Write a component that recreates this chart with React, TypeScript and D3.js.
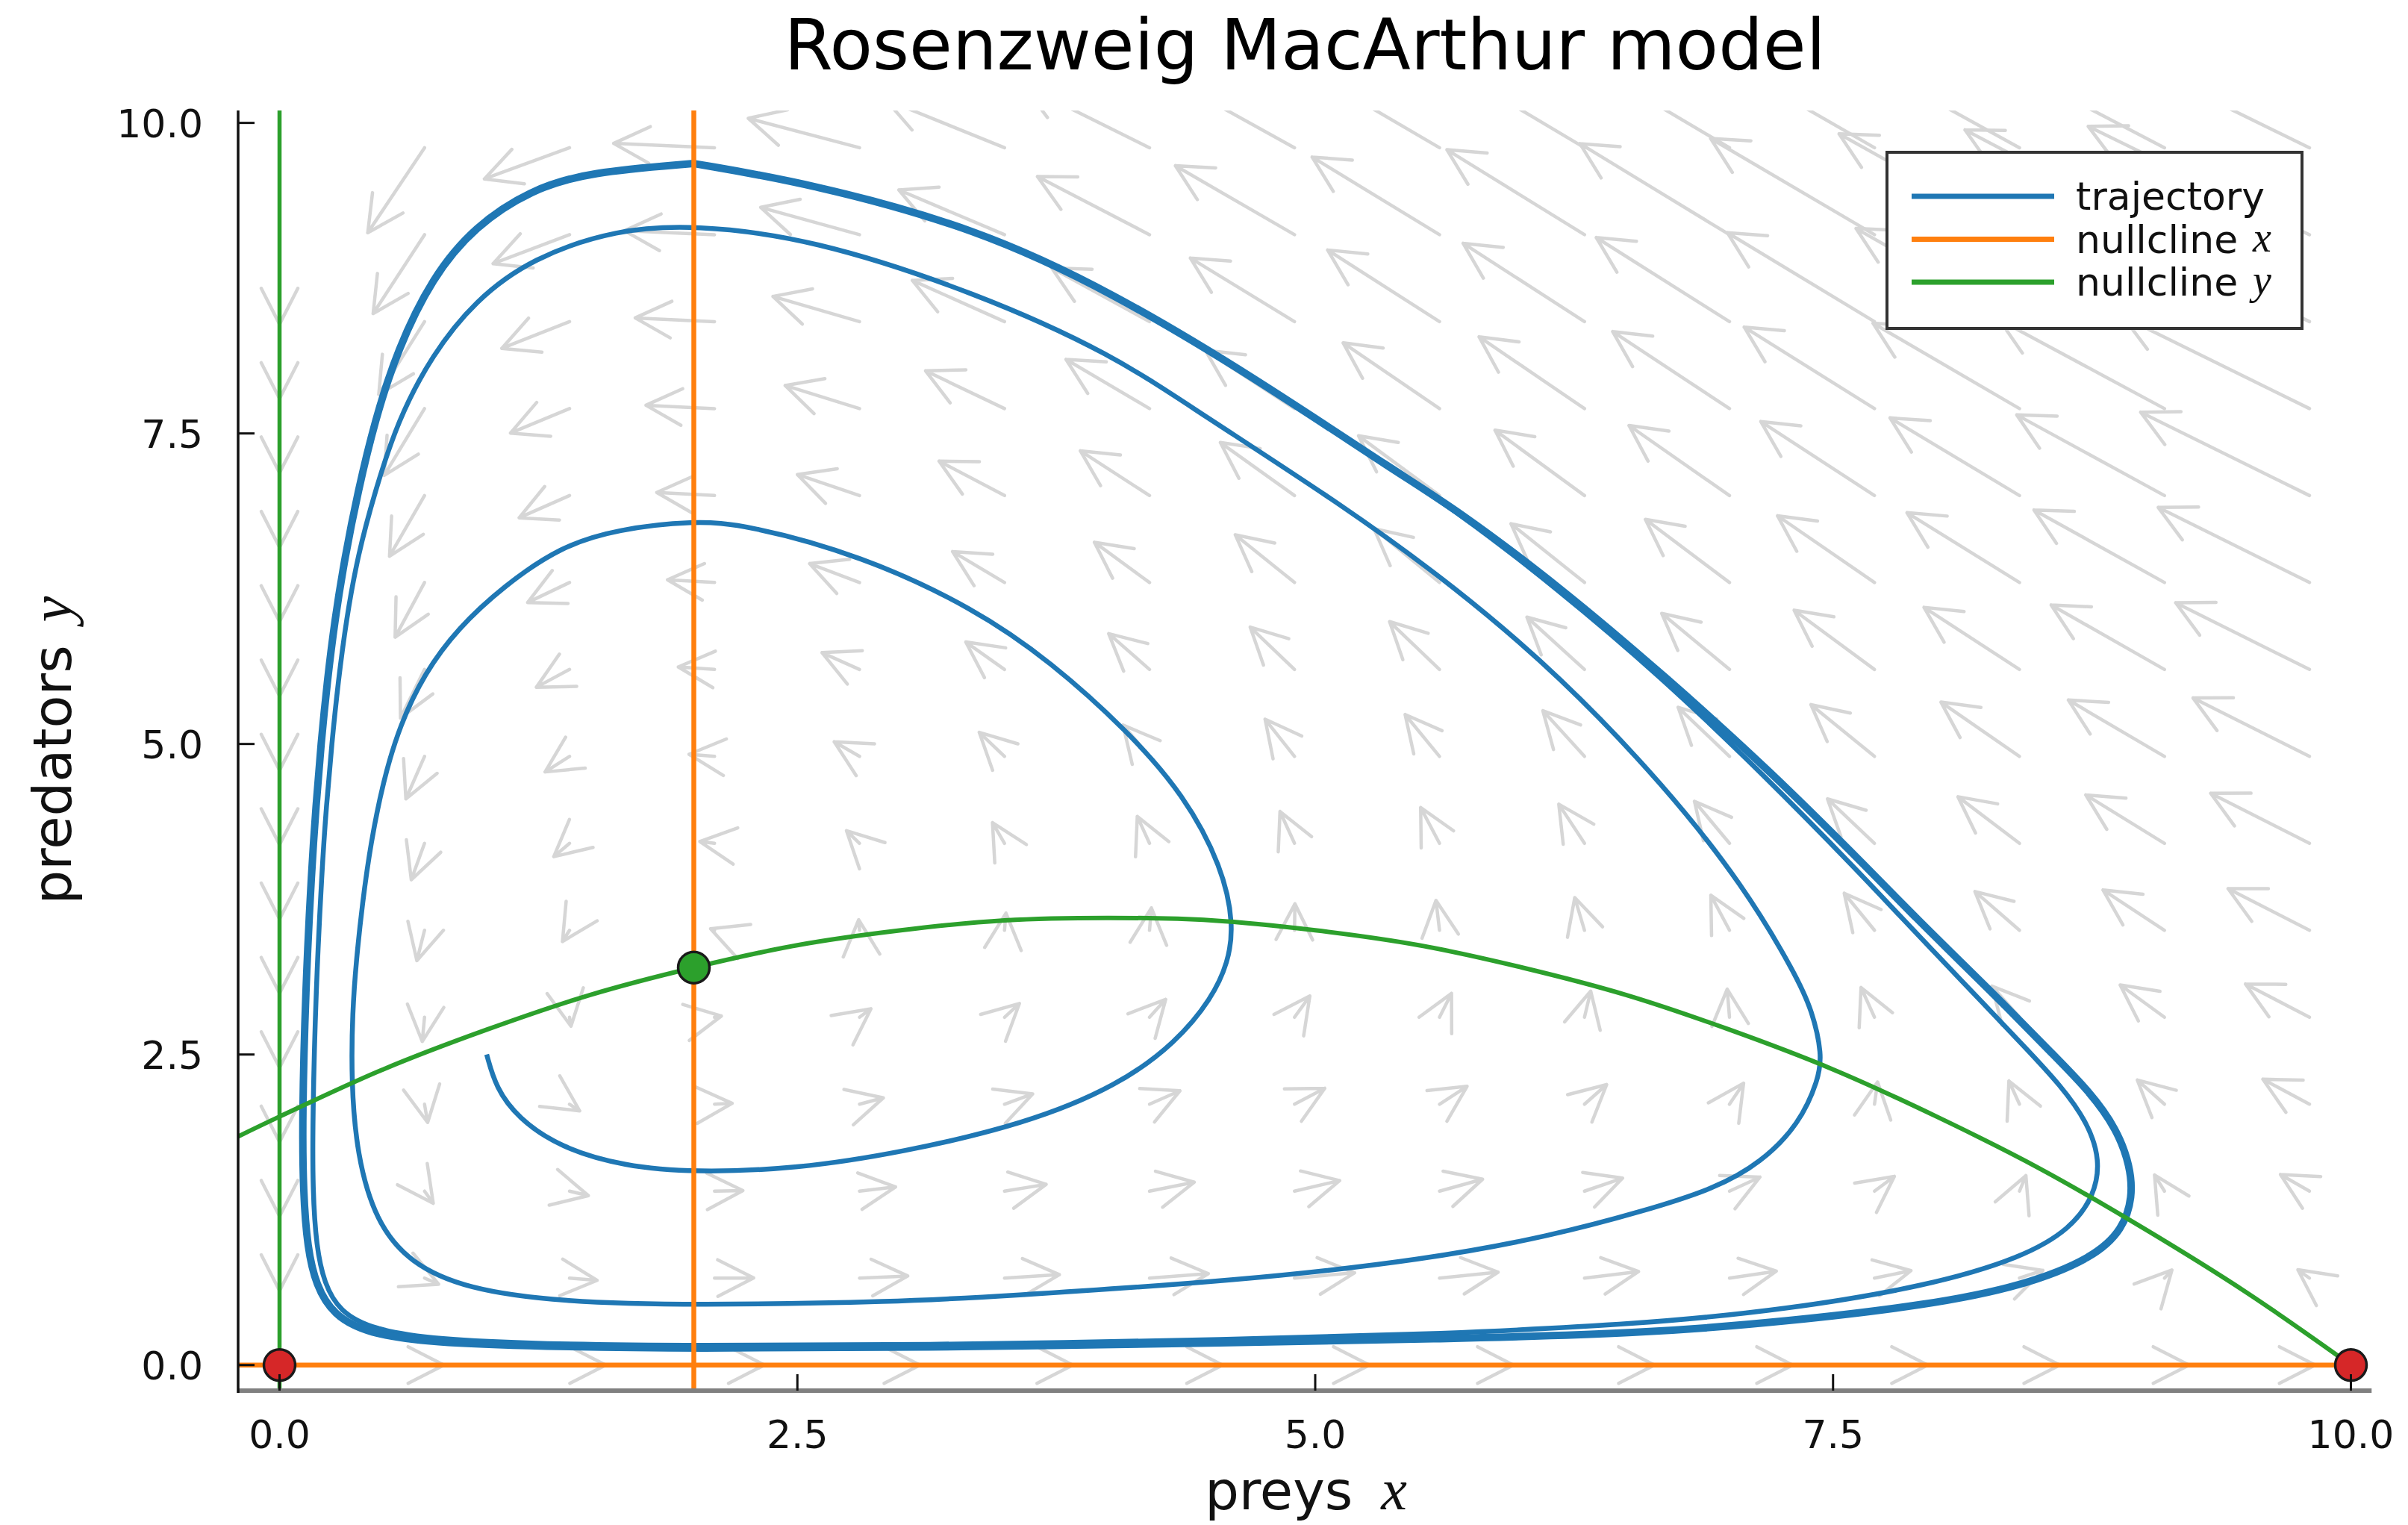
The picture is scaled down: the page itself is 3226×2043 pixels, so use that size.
import { useEffect } from "react";
import * as d3 from "d3";

const W = 3226;
const H = 2043;

// quiver grid (tails) and arrow components, rows = gridY, columns = gridX
const gridX = [0, 0.7, 1.4, 2.1, 2.8, 3.5, 4.2, 4.9, 5.6, 6.3, 7.0, 7.7, 8.4, 9.1, 9.8];
const gridY = [0, 0.7, 1.4, 2.1, 2.8, 3.5, 4.2, 4.9, 5.6, 6.3, 7.0, 7.7, 8.4, 9.1, 9.8];

const arrowU = [
  [0, 0.094, 0.175, 0.241, 0.292, 0.33, 0.353, 0.362, 0.357, 0.338, 0.305, 0.257, 0.195, 0.119, 0.028],
  [0, 0.068, 0.133, 0.189, 0.233, 0.265, 0.284, 0.29, 0.283, 0.261, 0.226, 0.176, 0.113, 0.036, -0.056],
  [0, 0.042, 0.091, 0.137, 0.174, 0.201, 0.216, 0.218, 0.208, 0.184, 0.147, 0.096, 0.031, -0.048, -0.14],
  [0, 0.015, 0.049, 0.085, 0.115, 0.136, 0.147, 0.146, 0.133, 0.107, 0.068, 0.015, -0.051, -0.131, -0.225],
  [0, -0.011, 0.007, 0.033, 0.055, 0.072, 0.078, 0.074, 0.058, 0.03, -0.011, -0.065, -0.133, -0.214, -0.309],
  [0, -0.037, -0.034, -0.019, -0.004, 0.007, 0.009, 0.002, -0.017, -0.047, -0.09, -0.146, -0.215, -0.297, -0.393],
  [0, -0.064, -0.076, -0.071, -0.063, -0.058, -0.059, -0.07, -0.091, -0.124, -0.169, -0.227, -0.297, -0.38, -0.477],
  [0, -0.09, -0.118, -0.123, -0.122, -0.122, -0.128, -0.142, -0.166, -0.201, -0.248, -0.307, -0.379, -0.464, -0.562],
  [0, -0.116, -0.16, -0.175, -0.181, -0.187, -0.197, -0.214, -0.241, -0.278, -0.327, -0.388, -0.461, -0.547, -0.646],
  [0, -0.142, -0.202, -0.227, -0.241, -0.251, -0.266, -0.286, -0.316, -0.355, -0.406, -0.468, -0.543, -0.63, -0.73],
  [0, -0.169, -0.243, -0.279, -0.3, -0.316, -0.334, -0.358, -0.391, -0.432, -0.485, -0.549, -0.625, -0.713, -0.815],
  [0, -0.195, -0.285, -0.331, -0.359, -0.381, -0.403, -0.43, -0.465, -0.509, -0.564, -0.629, -0.707, -0.797, -0.899],
  [0, -0.221, -0.327, -0.383, -0.418, -0.445, -0.472, -0.503, -0.54, -0.586, -0.643, -0.71, -0.789, -0.88, -0.983],
  [0, -0.248, -0.369, -0.435, -0.477, -0.51, -0.541, -0.575, -0.615, -0.664, -0.722, -0.791, -0.871, -0.963, -1.068],
  [0, -0.274, -0.411, -0.487, -0.537, -0.574, -0.609, -0.647, -0.69, -0.741, -0.801, -0.871, -0.953, -1.046, -1.152],
];

const arrowV = [
  [0, 0, 0, 0, 0, 0, 0, 0, 0, 0, 0, 0, 0, 0, 0],
  [-0.102, -0.049, -0.018, 0.002, 0.017, 0.028, 0.036, 0.043, 0.048, 0.053, 0.056, 0.06, 0.062, 0.065, 0.067],
  [-0.203, -0.098, -0.036, 0.005, 0.034, 0.055, 0.072, 0.085, 0.096, 0.105, 0.113, 0.119, 0.125, 0.13, 0.134],
  [-0.305, -0.147, -0.054, 0.007, 0.051, 0.083, 0.108, 0.128, 0.144, 0.158, 0.169, 0.179, 0.187, 0.195, 0.201],
  [-0.406, -0.195, -0.072, 0.01, 0.068, 0.111, 0.144, 0.171, 0.192, 0.21, 0.226, 0.239, 0.25, 0.26, 0.268],
  [-0.508, -0.244, -0.09, 0.012, 0.085, 0.138, 0.18, 0.213, 0.24, 0.263, 0.282, 0.298, 0.312, 0.325, 0.335],
  [-0.609, -0.293, -0.107, 0.015, 0.102, 0.166, 0.216, 0.256, 0.288, 0.315, 0.338, 0.358, 0.375, 0.39, 0.403],
  [-0.711, -0.342, -0.125, 0.017, 0.118, 0.194, 0.252, 0.299, 0.337, 0.368, 0.395, 0.417, 0.437, 0.454, 0.47],
  [-0.812, -0.391, -0.143, 0.02, 0.135, 0.221, 0.288, 0.341, 0.385, 0.421, 0.451, 0.477, 0.5, 0.519, 0.537],
  [-0.914, -0.44, -0.161, 0.022, 0.152, 0.249, 0.324, 0.384, 0.433, 0.473, 0.508, 0.537, 0.562, 0.584, 0.604],
  [-1.015, -0.489, -0.179, 0.025, 0.169, 0.277, 0.36, 0.427, 0.481, 0.526, 0.564, 0.596, 0.625, 0.649, 0.671],
  [-1.117, -0.538, -0.197, 0.027, 0.186, 0.304, 0.396, 0.469, 0.529, 0.578, 0.62, 0.656, 0.687, 0.714, 0.738],
  [-1.218, -0.586, -0.215, 0.03, 0.203, 0.332, 0.432, 0.512, 0.577, 0.631, 0.677, 0.716, 0.75, 0.779, 0.805],
  [-1.32, -0.635, -0.233, 0.032, 0.22, 0.36, 0.468, 0.555, 0.625, 0.684, 0.733, 0.775, 0.812, 0.844, 0.872],
  [-1.421, -0.684, -0.251, 0.035, 0.237, 0.388, 0.504, 0.597, 0.673, 0.736, 0.789, 0.835, 0.874, 0.909, 0.939],
];

// trajectory, from the start point (1, 2.5) outwards
const trajectory: [number, number][] = [
  // first loop
  [1.0, 2.5], [1.045, 2.23], [1.15, 1.99], [1.355, 1.75], [1.665, 1.6], [2.0, 1.55], [2.5, 1.58],
  [3.0, 1.71], [3.6, 1.94], [4.05, 2.25], [4.33, 2.6], [4.5, 2.95], [4.58, 3.24], [4.607, 3.545],
  [4.552, 4.006], [4.368, 4.588], [4.092, 5.109], [3.725, 5.66], [3.357, 6.09], [2.806, 6.52],
  [2.254, 6.765], [2.0, 6.798], [1.632, 6.729], [1.357, 6.591], [1.081, 6.27], [0.86, 5.93],
  [0.7, 5.57], [0.58, 5.15], [0.5, 4.7], [0.44, 4.2], [0.4, 3.72], [0.37, 3.25], [0.352, 2.85],
  [0.346, 2.29], [0.373, 1.69], [0.466, 1.15], [0.63, 0.82], [0.9, 0.613], [1.355, 0.508],
  [2.0, 0.48], [3.0, 0.51], [3.45, 0.55], [4.644, 0.68], [5.54, 0.85], [6.14, 1.04], [6.586, 1.24],
  [6.93, 1.42], [7.153, 1.63], [7.337, 1.94], [7.43, 2.3], [7.447, 2.5], [7.4, 2.85], [7.321, 3.142],
  [7.068, 3.859], [6.689, 4.66], [6.183, 5.545], [5.677, 6.262], [5.137, 6.918], [4.424, 7.685],
  [4.025, 8.133], [3.37, 8.63], [2.562, 9.073], [2.0, 9.178],
  // second loop
  [1.632, 9.145], [1.219, 8.914], [0.943, 8.569], [0.736, 8.132], [0.57, 7.603], [0.46, 7.028],
  [0.378, 6.522], [0.322, 6.0], [0.283, 5.5], [0.252, 5.0], [0.226, 4.5], [0.205, 4.0], [0.175, 3.0],
  [0.16, 2.0], [0.16, 1.4], [0.178, 0.95], [0.215, 0.66], [0.29, 0.43], [0.45, 0.285], [0.76, 0.205],
  [1.25, 0.17], [2.0, 0.155], [3.05, 0.16], [4.644, 0.205], [5.6, 0.25], [6.578, 0.33], [7.268, 0.445],
  [7.958, 0.636], [8.417, 0.867], [8.647, 1.097], [8.762, 1.365], [8.79, 1.65], [8.73, 1.95],
  [8.6, 2.25], [8.42, 2.57], [8.22, 2.92], [8.02, 3.27], [7.82, 3.62], [7.63, 3.96], [7.16, 4.76],
  [6.67, 5.54], [6.17, 6.25], [5.67, 6.89], [5.4, 7.175], [4.714, 7.942], [4.025, 8.632], [3.37, 9.15],
  [2.562, 9.513], [2.0, 9.673],
];

// the limit cycle the trajectory settles on (traversed several times -> thick band)
const limitCycle: [number, number][] = [
  [2.0, 9.673], [1.494, 9.604], [1.219, 9.466], [0.942, 9.169], [0.736, 8.753], [0.57, 8.178],
  [0.46, 7.603], [0.378, 7.028], [0.315, 6.5], [0.267, 6.0], [0.23, 5.5], [0.2, 5.0], [0.176, 4.5],
  [0.155, 4.0], [0.125, 3.0], [0.11, 2.0], [0.114, 1.39], [0.135, 0.94], [0.176, 0.642], [0.259, 0.404],
  [0.424, 0.254], [0.734, 0.18], [1.252, 0.15], [2.0, 0.133], [3.05, 0.14], [4.644, 0.18], [5.6, 0.21],
  [6.578, 0.254], [7.268, 0.349], [7.958, 0.483], [8.417, 0.636], [8.762, 0.867], [8.9, 1.097],
  [8.946, 1.35], [8.935, 1.6], [8.87, 1.9], [8.74, 2.2], [8.55, 2.52], [8.34, 2.88], [8.12, 3.24],
  [7.9, 3.6], [7.7, 3.944], [7.194, 4.787], [6.689, 5.545], [6.183, 6.262], [5.677, 6.894],
  [5.404, 7.175], [4.714, 7.942], [4.025, 8.632], [3.37, 9.15], [2.562, 9.513], [2.0, 9.673],
];

// curved prey nullcline (green)
const nullYX = [-0.2, 0, 0.5, 1, 1.5, 2, 2.5, 3, 3.5, 4, 4.5, 5, 5.5, 6, 6.5, 7, 7.5, 8, 8.5, 9, 9.5, 10];
const nullYY = [1.84, 2.0, 2.38, 2.7, 2.98, 3.2, 3.38, 3.5, 3.58, 3.6, 3.58, 3.5, 3.38, 3.2, 2.98, 2.7, 2.38, 2.0, 1.58, 1.1, 0.58, 0];

const nullXVertical = 2;
const nullXHorizontal = 0;
const nullYVertical = 0;

const redPoints: [number, number][] = [[0, 0], [10, 0]];
const greenPoints: [number, number][] = [[2, 3.2]];

const xTicks = [0, 2.5, 5, 7.5, 10];
const yTicks = [0, 2.5, 5, 7.5, 10];

const BLUE = "#1f77b4";
const ORANGE = "#ff7f0e";
const GREEN = "#2ca02c";
const RED = "#d62728";
const ARROW = "#d6d6d6";

const SANS = "DejaVu Sans, sans-serif";
const MATH = "Liberation Serif, DejaVu Serif, serif";

const x = d3.scaleLinear().domain([-0.2, 10.1]).range([319, 3177.25]);
const y = d3.scaleLinear().domain([-0.206, 10.1]).range([1863, 148]);

const HEAD_LEN = 54;
const HEAD_ANG = (27 * Math.PI) / 180;

function arrowPath(gx: number, gy: number, u: number, v: number) {
  const x1 = x(gx), y1 = y(gy), x2 = x(gx + u), y2 = y(gy + v);
  const a = Math.atan2(y2 - y1, x2 - x1);
  const bx1 = x2 - HEAD_LEN * Math.cos(a - HEAD_ANG);
  const by1 = y2 - HEAD_LEN * Math.sin(a - HEAD_ANG);
  const bx2 = x2 - HEAD_LEN * Math.cos(a + HEAD_ANG);
  const by2 = y2 - HEAD_LEN * Math.sin(a + HEAD_ANG);
  return `M${x1},${y1}L${x2},${y2}M${bx1},${by1}L${x2},${y2}L${bx2},${by2}`;
}

export default function App() {
  useEffect(() => {
    document.body.style.margin = "0";
    document.body.style.overflow = "hidden";
  }, []);

  const smooth = d3
    .line<[number, number]>()
    .x((d) => x(d[0]))
    .y((d) => y(d[1]))
    .curve(d3.curveBasis);

  const nullLine = d3
    .line<[number, number]>()
    .x((d) => x(d[0]))
    .y((d) => y(d[1]))
    .curve(d3.curveCatmullRom);

  const nullPts = nullYX.map((v, i) => [v, nullYY[i]] as [number, number]);

  const [x0, x1] = x.range();
  const [yb, yt] = y.range();
  const xc = (x0 + x1) / 2;
  const yc = (yt + yb) / 2;

  const legendItems = [
    { label: "trajectory", math: "", color: BLUE },
    { label: "nullcline", math: "x", color: ORANGE },
    { label: "nullcline", math: "y", color: GREEN },
  ];

  return (
    <svg
      width={W}
      height={H}
      viewBox={`0 0 ${W} ${H}`}
      style={{ position: "absolute", left: 0, top: 0, background: "#fff" }}
      fontFamily={SANS}
    >
      <defs>
        <clipPath id="plotArea">
          <rect x={x0} y={yt} width={x1 - x0} height={yb - yt} />
        </clipPath>
      </defs>
      <rect width={W} height={H} fill="#fff" />

      <g clipPath="url(#plotArea)">
        {/* vector field */}
        <g stroke={ARROW} strokeWidth={4.5} fill="none" strokeLinecap="round" strokeLinejoin="round">
          {gridY.map((gy, j) =>
            gridX.map((gx, i) => {
              const u = arrowU[j][i];
              const v = arrowV[j][i];
              if (u === 0 && v === 0) return null;
              return <path key={`${i}-${j}`} d={arrowPath(gx, gy, u, v)} />;
            })
          )}
        </g>

        {/* trajectory */}
        <path d={smooth(trajectory) ?? ""} fill="none" stroke={BLUE} strokeWidth={6.5} />
        <path d={smooth(limitCycle) ?? ""} fill="none" stroke={BLUE} strokeWidth={10} />

        {/* nullclines x */}
        <line x1={x(nullXVertical)} x2={x(nullXVertical)} y1={yt} y2={yb} stroke={ORANGE} strokeWidth={6.5} />
        <line x1={x0} x2={x(10)} y1={y(nullYVertical)} y2={y(nullYVertical)} stroke={ORANGE} strokeWidth={6.5} />

        {/* nullclines y */}
        <line x1={x(nullXHorizontal)} x2={x(nullXHorizontal)} y1={yt} y2={yb} stroke={GREEN} strokeWidth={5.5} />
        <path d={nullLine(nullPts) ?? ""} fill="none" stroke={GREEN} strokeWidth={6} />
      </g>

      {/* equilibria */}
      {redPoints.map((p, i) => (
        <circle key={`r${i}`} cx={x(p[0])} cy={y(p[1])} r={21} fill={RED} stroke="#1a1a1a" strokeWidth={3.5} />
      ))}
      {greenPoints.map((p, i) => (
        <circle key={`g${i}`} cx={x(p[0])} cy={y(p[1])} r={21} fill={GREEN} stroke="#1a1a1a" strokeWidth={3.5} />
      ))}

      {/* axes */}
      <line x1={x0} x2={x1} y1={yb} y2={yb} stroke="#808080" strokeWidth={6} />
      <line x1={x0} x2={x0} y1={yt} y2={yb + 3} stroke="#111" strokeWidth={3.5} />
      {xTicks.map((t) => (
        <g key={`xt${t}`}>
          <line x1={x(t)} x2={x(t)} y1={yb} y2={yb - 22} stroke="#111" strokeWidth={3} />
          <text x={x(t)} y={1940} fontSize={52} textAnchor="middle" fill="#111">
            {t.toFixed(1)}
          </text>
        </g>
      ))}
      {yTicks.map((t) => (
        <g key={`yt${t}`}>
          <line x1={x0} x2={x0 + 22} y1={y(t)} y2={y(t)} stroke="#111" strokeWidth={3} />
          <text x={272} y={y(t) + 19} fontSize={52} textAnchor="end" fill="#111">
            {t.toFixed(1)}
          </text>
        </g>
      ))}

      {/* legend */}
      <rect x={2528} y={204} width={556} height={236} fill="#fff" stroke="#333" strokeWidth={4} />
      {legendItems.map((d, i) => {
        const ly = 263 + i * 57.5;
        return (
          <g key={d.label + i}>
            <line x1={2561} x2={2752} y1={ly} y2={ly} stroke={d.color} strokeWidth={7} />
            <text x={2781} y={ly + 18} fontSize={52} fill="#111">
              {d.label}
            </text>
            {d.math && (
              <text x={3018} y={ly + 16} fontFamily={MATH} fontStyle="italic" fontSize={56} fill="#111">
                {d.math}
              </text>
            )}
          </g>
        );
      })}

      {/* title and axis labels */}
      <text x={xc} y={93} fontSize={94} textAnchor="middle" fill="#000">
        Rosenzweig MacArthur model
      </text>
      <text x={xc - 134} y={2022} fontSize={72} fill="#111">
        preys
      </text>
      <text x={xc + 102} y={2022} fontFamily={MATH} fontStyle="italic" fontSize={78} fill="#111">
        x
      </text>
      <g transform={`translate(95, ${yc}) rotate(-90)`}>
        <text x={-206} y={0} fontSize={72} fill="#111">
          predators
        </text>
        <text x={172} y={0} fontFamily={MATH} fontStyle="italic" fontSize={78} fill="#111">
          y
        </text>
      </g>
    </svg>
  );
}
